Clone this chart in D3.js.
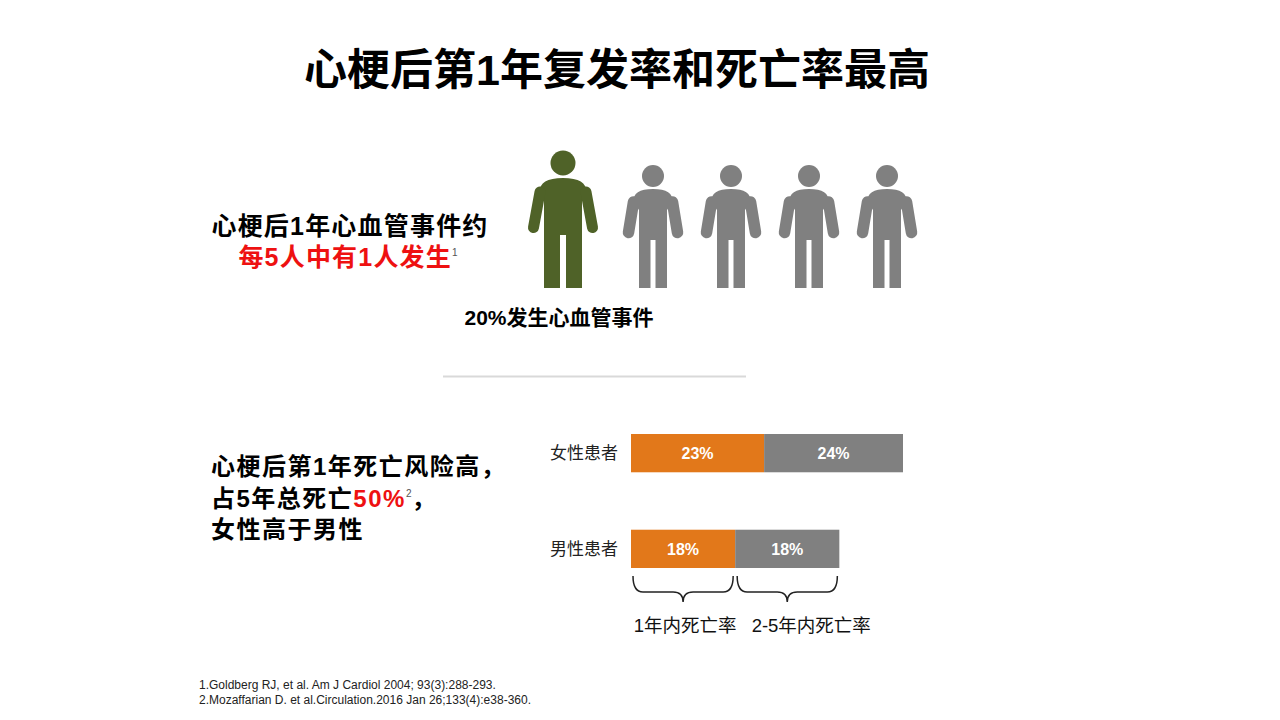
<!DOCTYPE html>
<html>
<head>
<meta charset="utf-8">
<script src="https://cdn.jsdelivr.net/npm/d3@7"></script>
<style>
  body { margin: 0; background: #fff; }
  svg { display: block; font-family: "Liberation Sans", Arial, "Noto Sans CJK SC", sans-serif; }
</style>
</head>
<body>
<div id="wrapper"></div>
<script>
// data
const titleText = "心梗后第1年复发率和死亡率最高";
const persons = ["affected", "other", "other", "other", "other"];
const personLabel = "20%发生心血管事件";
const eventLines = ["心梗后1年心血管事件约", "每5人中有1人发生"];
const groups = ["女性患者", "男性患者"];
const firstYear = [23, 18];
const years2to5 = [24, 18];
const periodLabels = ["1年内死亡率", "2-5年内死亡率"];
const references = [
  "1.Goldberg RJ, et al. Am J Cardiol 2004; 93(3):288-293.",
  "2.Mozaffarian D. et al.Circulation.2016 Jan 26;133(4):e38-360.",
];

const colors = {
  affected: "#4f6228",
  other: "#808080",
  first: "#e2781a",
  later: "#808080",
  red: "#ee1111",
};

function drawSlide() {
  const width = 1280;
  const height = 720;

  const svg = d3
    .select("#wrapper")
    .append("svg")
    .attr("width", width)
    .attr("height", height);

  //* title
  svg
    .append("text")
    .attr("x", 617)
    .attr("y", 85)
    .attr("text-anchor", "middle")
    .style("font-size", "43px")
    .style("font-weight", "bold")
    .attr("fill", "#000")
    .text(titleText);

  //* people
  const shapes = {
    affected: { headR: 12.5, headCy: -125, top: -110, torso: 19, armTop: [23, -96], armBot: [29.5, -60.5], armW: 11, crotch: -55, gap: 3 },
    other: { headR: 11, headCy: -112, top: -99, torso: 14, armTop: [19.5, -86], armBot: [24.5, -55.5], armW: 11.5, crotch: -50, gap: 2.5 },
  };
  const groundY = 288;
  const xPerson = d3.scaleLinear().domain([1, 4]).range([653, 887]);
  const personX = (d, i) => (d === "affected" ? xPerson(i) - 12 : xPerson(i));

  const people = svg
    .append("g")
    .selectAll("g")
    .data(persons)
    .join("g")
    .attr("transform", (d, i) => `translate(${personX(d, i)},${groundY})`)
    .attr("fill", (d) => colors[d]);

  people.each(function (d) {
    const s = shapes[d];
    const g = d3.select(this);
    g.append("circle").attr("cx", 0).attr("cy", s.headCy).attr("r", s.headR);
    const p = d3.path();
    p.moveTo(-s.torso, s.crotch + 2);
    p.lineTo(-s.torso, s.armTop[1] + 8);
    p.lineTo(-s.armTop[0], s.armTop[1]);
    p.quadraticCurveTo(-s.armTop[0] - 1, s.top, 0, s.top);
    p.quadraticCurveTo(s.armTop[0] + 1, s.top, s.armTop[0], s.armTop[1]);
    p.lineTo(s.torso, s.armTop[1] + 8);
    p.lineTo(s.torso, s.crotch + 2);
    p.closePath();
    g.append("path").attr("d", p.toString());
    [-1, 1].forEach((side) => {
      g.append("line")
        .attr("x1", side * s.armTop[0])
        .attr("y1", s.armTop[1])
        .attr("x2", side * s.armBot[0])
        .attr("y2", s.armBot[1])
        .attr("stroke", colors[d])
        .attr("stroke-width", s.armW)
        .attr("stroke-linecap", "round");
      g.append("rect")
        .attr("x", side < 0 ? -s.torso : s.gap)
        .attr("y", s.crotch)
        .attr("width", s.torso - s.gap)
        .attr("height", -s.crotch);
    });
  });

  svg
    .append("text")
    .attr("x", 559)
    .attr("y", 325)
    .attr("text-anchor", "middle")
    .style("font-size", "21px")
    .style("font-weight", "bold")
    .text(personLabel);

  const eventText = svg
    .append("text")
    .attr("text-anchor", "middle")
    .style("font-size", "25px")
    .style("font-weight", "bold")
    .style("letter-spacing", "1.2px");
  eventText.append("tspan").attr("x", 350).attr("y", 235).text(eventLines[0]);
  const line2 = eventText.append("tspan").attr("x", 348).attr("y", 266);
  line2.append("tspan").attr("fill", colors.red).text(eventLines[1]);
  line2
    .append("tspan")
    .attr("dy", -10)
    .style("font-size", "10px")
    .style("font-weight", "normal")
    .style("letter-spacing", "0px")
    .attr("fill", "#555")
    .text("1");

  //* divider
  svg
    .append("line")
    .attr("x1", 443)
    .attr("x2", 746)
    .attr("y1", 376.5)
    .attr("y2", 376.5)
    .attr("stroke", "#d9d9d9")
    .attr("stroke-width", 2);

  //* mortality text
  const mortText = svg
    .append("text")
    .style("font-size", "24px")
    .style("font-weight", "bold")
    .style("letter-spacing", "1.5px");
  mortText.append("tspan").attr("x", 211).attr("y", 475).text("心梗后第1年死亡风险高，");
  const m2 = mortText.append("tspan").attr("x", 211).attr("y", 507);
  m2.append("tspan").text("占5年总死亡");
  m2.append("tspan").attr("fill", colors.red).text("50%");
  m2.append("tspan")
    .attr("dy", -10)
    .style("font-size", "10px")
    .style("font-weight", "normal")
    .style("letter-spacing", "0px")
    .attr("fill", "#555")
    .text("2");
  m2.append("tspan").attr("dy", 10).text("，");
  mortText.append("tspan").attr("x", 211).attr("y", 538).text("女性高于男性");

  //* stacked bars
  const xScale = d3.scaleLinear().domain([0, 47]).range([631, 903]);
  const yScale = d3
    .scaleBand()
    .domain(groups)
    .range([434, 568])
    .paddingInner(0.6)
    .paddingOuter(0);

  const rows = groups.map((g, i) => ({
    group: g,
    segs: [
      { key: "first", x0: 0, x1: firstYear[i], value: firstYear[i] },
      { key: "later", x0: firstYear[i], x1: firstYear[i] + years2to5[i], value: years2to5[i] },
    ],
  }));

  const rowGroups = svg
    .append("g")
    .selectAll("g")
    .data(rows)
    .join("g")
    .attr("transform", (d) => `translate(0,${yScale(d.group)})`);

  rowGroups
    .append("text")
    .attr("x", 618)
    .attr("y", yScale.bandwidth() / 2)
    .attr("dy", "0.36em")
    .attr("text-anchor", "end")
    .style("font-size", "17px")
    .attr("fill", "#222")
    .text((d) => d.group);

  const segs = rowGroups
    .selectAll("g.seg")
    .data((d) => d.segs)
    .join("g")
    .attr("class", "seg");

  segs
    .append("rect")
    .attr("x", (d) => xScale(d.x0))
    .attr("y", 0)
    .attr("width", (d) => xScale(d.x1) - xScale(d.x0))
    .attr("height", yScale.bandwidth())
    .attr("fill", (d) => colors[d.key]);

  segs
    .append("text")
    .attr("x", (d) => (xScale(d.x0) + xScale(d.x1)) / 2)
    .attr("y", yScale.bandwidth() / 2)
    .attr("dy", "0.36em")
    .attr("text-anchor", "middle")
    .style("font-size", "16px")
    .style("font-weight", "bold")
    .attr("fill", "#fff")
    .text((d) => `${d.value}%`);

  //* braces under the men's bar
  const lastRow = rows[rows.length - 1];
  const braceTop = yScale(lastRow.group) + yScale.bandwidth() + 8;
  const braceMid = braceTop + 16;
  const braceTip = braceTop + 26;

  function bracePath(x1, x2) {
    const r = 10;
    const mid = (x1 + x2) / 2;
    const p = d3.path();
    p.moveTo(x1, braceTop);
    p.quadraticCurveTo(x1, braceMid, x1 + r, braceMid);
    p.lineTo(mid - r, braceMid);
    p.quadraticCurveTo(mid, braceMid, mid, braceTip);
    p.quadraticCurveTo(mid, braceMid, mid + r, braceMid);
    p.lineTo(x2 - r, braceMid);
    p.quadraticCurveTo(x2, braceMid, x2, braceTop);
    return p.toString();
  }

  const braces = svg
    .append("g")
    .selectAll("g")
    .data(lastRow.segs)
    .join("g");

  braces
    .append("path")
    .attr("d", (d) => bracePath(xScale(d.x0) + 2, xScale(d.x1) - 2))
    .attr("fill", "none")
    .attr("stroke", "#222")
    .attr("stroke-width", 1.5);

  const labelShift = [2, 24];
  braces
    .append("text")
    .attr("x", (d, i) => (xScale(d.x0) + xScale(d.x1)) / 2 + labelShift[i])
    .attr("y", braceTip + 30)
    .attr("text-anchor", "middle")
    .style("font-size", "18.5px")
    .attr("fill", "#111")
    .text((d, i) => periodLabels[i]);

  //* references
  svg
    .append("g")
    .selectAll("text")
    .data(references)
    .join("text")
    .attr("x", 199)
    .attr("y", (d, i) => 689 + i * 15)
    .style("font-size", "12px")
    .attr("fill", "#222")
    .text((d) => d);
}
drawSlide();
</script>
</body>
</html>
